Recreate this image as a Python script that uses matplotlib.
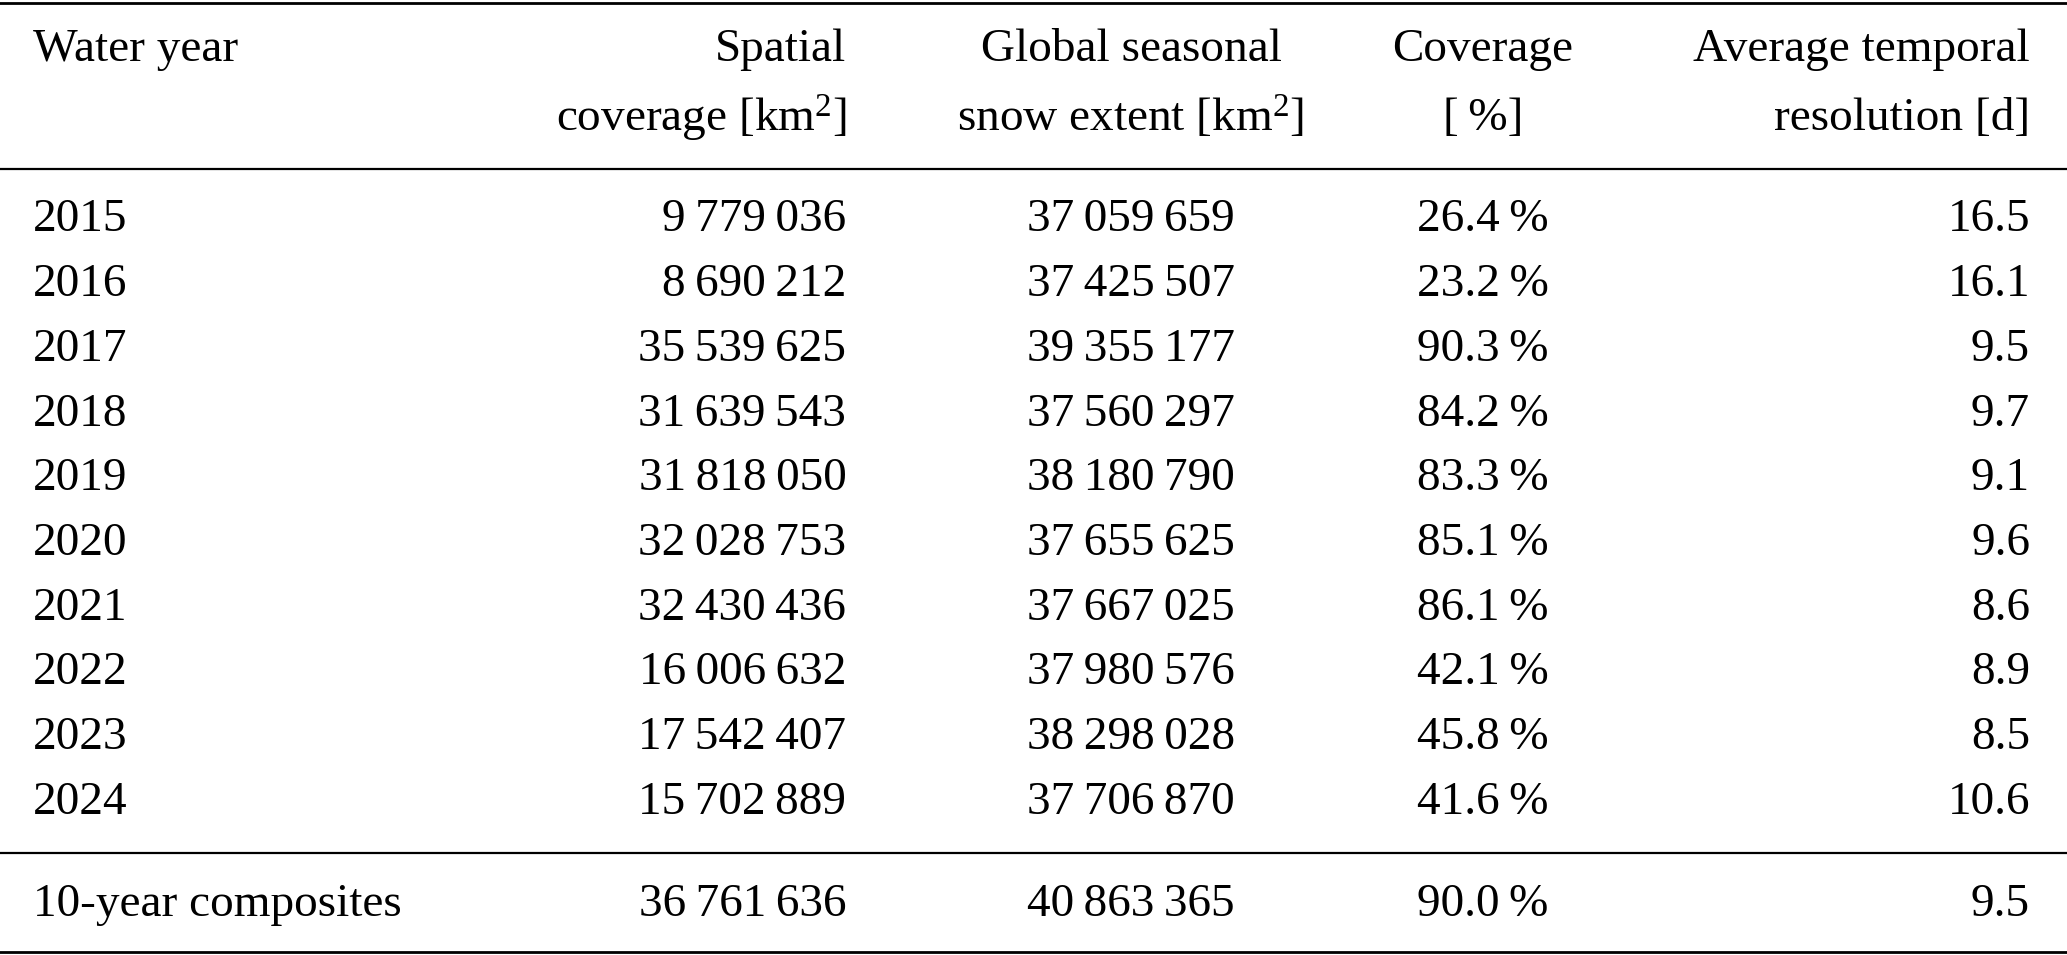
import matplotlib
matplotlib.use("Agg")
import matplotlib.pyplot as plt

plt.rcParams['font.family'] = ['Liberation Serif', 'DejaVu Serif']
plt.rcParams['mathtext.fontset'] = 'custom'
plt.rcParams['mathtext.rm'] = 'Liberation Serif'
plt.rcParams['mathtext.it'] = 'Liberation Serif:italic'

years = ["2015","2016","2017","2018","2019","2020","2021","2022","2023","2024"]
spatial = [9779036,8690212,35539625,31639543,31818050,32028753,32430436,16006632,17542407,15702889]
extent = [37059659,37425507,39355177,37560297,38180790,37655625,37667025,37980576,38298028,37706870]
coverage = [26.4,23.2,90.3,84.2,83.3,85.1,86.1,42.1,45.8,41.6]
temporal = [16.5,16.1,9.5,9.7,9.1,9.6,8.6,8.9,8.5,10.6]
comp_label = "10-year composites"
comp = (36761636, 40863365, 90.0, 9.5)

W, H = 2067, 955
fig = plt.figure(figsize=(W/100, H/100), dpi=100)
ax = fig.add_axes([0, 0, 1, 1])
# layout units: reference as seen at 1568 px width
UW = 1568
UH = UW * H / W
ax.set_xlim(0, UW); ax.set_ylim(UH, 0); ax.axis('off')

fs = 34
def fmt(n):
    return f"{n:,}".replace(",", "\u2009")

def row(y, c1, c2, c3, c4, c5):
    ax.text(25, y, c1, ha='left', va='center', fontsize=fs)
    ax.text(642, y, c2, ha='right', va='center', fontsize=fs)
    ax.text(858, y, c3, ha='center', va='center', fontsize=fs)
    ax.text(1125, y, c4, ha='center', va='center', fontsize=fs)
    ax.text(1540, y, c5, ha='right', va='center', fontsize=fs)

for y, lw in [(2, 2.0), (128, 1.6), (647, 1.6), (722, 2.0)]:
    ax.plot([0, 1567], [y, y], color='black', lw=lw)

row(38, "Water year", "Spatial", "Global seasonal", "Coverage", "Average temporal")
row(90, "", "coverage [km$^2$]", "snow extent [km$^2$]", "[\u2009%]", "resolution [d]")

y0, dy = 167, 49.1
for i in range(len(years)):
    row(y0 + i*dy, years[i], fmt(spatial[i]), fmt(extent[i]),
        f"{coverage[i]:.1f}\u2009%", f"{temporal[i]:.1f}")
row(686, comp_label, fmt(comp[0]), fmt(comp[1]), f"{comp[2]:.1f}\u2009%", f"{comp[3]:.1f}")

fig.savefig("out.png", dpi=100)
